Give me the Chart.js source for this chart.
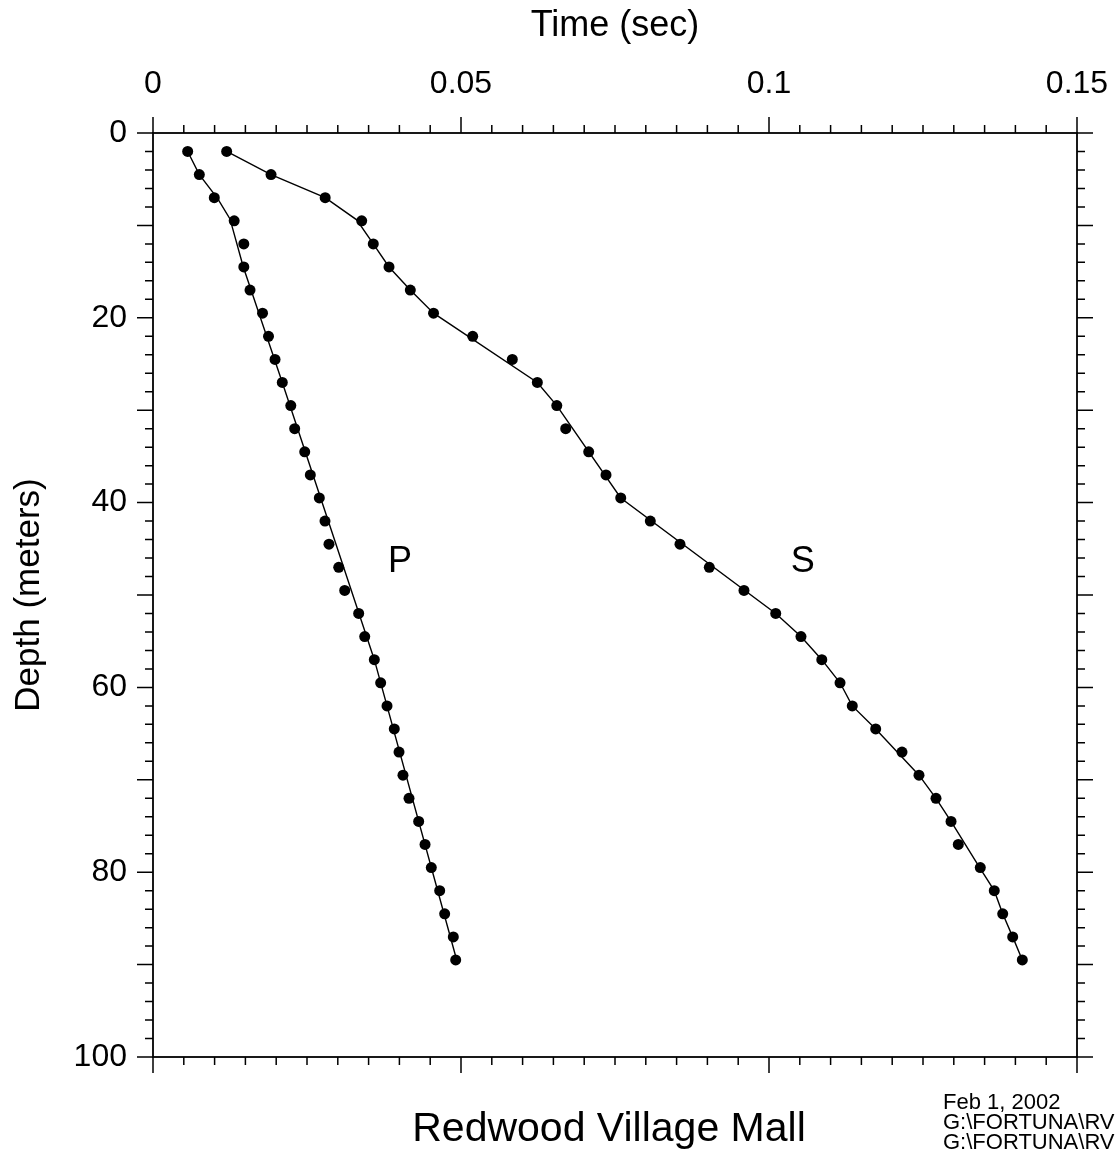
<!DOCTYPE html>
<html>
<head>
<meta charset="utf-8">
<script src="https://cdn.jsdelivr.net/npm/chart.js@4.4.0/dist/chart.umd.min.js"></script>
<style>
html,body{margin:0;padding:0;background:#fff;overflow:hidden}
canvas{display:block}
</style>
</head>
<body>
<canvas id="c" width="1115" height="1161"></canvas>
<script>
// ---- data ----
const depthM = [2, 4.5, 7, 9.5, 12, 14.5, 17, 19.5, 22, 24.5, 27, 29.5, 32, 34.5, 37, 39.5, 42, 44.5,
                47, 49.5, 52, 54.5, 57, 59.5, 62, 64.5, 67, 69.5, 72, 74.5, 77, 79.5, 82, 84.5, 87, 89.5];
const pTime = [0.00563, 0.00752, 0.00995, 0.01318, 0.01474, 0.01474, 0.01575, 0.01778, 0.01875, 0.01981,
               0.02099, 0.02237, 0.02300, 0.02463, 0.02554, 0.02700, 0.02792, 0.02857, 0.03015, 0.03112,
               0.03339, 0.03437, 0.03593, 0.03696, 0.03799, 0.03917, 0.03994, 0.04058, 0.04156, 0.04313,
               0.04416, 0.04518, 0.04654, 0.04735, 0.04875, 0.04914];
const sTime = [0.01196, 0.01916, 0.02795, 0.03388, 0.03576, 0.03831, 0.04177, 0.04554, 0.05190, 0.05833,
               0.06239, 0.06555, 0.06700, 0.07073, 0.07354, 0.07593, 0.08073, 0.08555, 0.09031, 0.09594,
               0.10109, 0.10519, 0.10857, 0.11153, 0.11352, 0.11732, 0.12159, 0.12435, 0.12711, 0.12955,
               0.13073, 0.13430, 0.13657, 0.13794, 0.13956, 0.14112];
// interpreted travel-time curves
const pLineDepth = [2, 4.5, 7.1, 9.3, 14.5, 27, 57, 89.5];
const pLineTime  = [0.00563, 0.00752, 0.0105, 0.0125, 0.01466, 0.02099, 0.03593, 0.0493];
const sLineDepth = [2, 4.5, 7, 9.4, 12, 14.5, 17, 19.5, 27, 29.5, 39.5, 52, 54.5, 57, 59.5, 62, 64.5,
                    69.5, 72, 74.5, 79.5, 82, 84.5, 87, 89.5];
const sLineTime  = [0.01196, 0.01916, 0.02795, 0.03307, 0.03576, 0.03831, 0.04177, 0.04554, 0.06239,
                    0.06555, 0.07593, 0.10109, 0.10519, 0.10857, 0.11153, 0.11352, 0.11732, 0.12435,
                    0.12711, 0.12955, 0.13420, 0.13657, 0.13794, 0.13956, 0.14112];
const xTickValues = [0, 0.05, 0.1, 0.15];
const yTickValues = [0, 20, 40, 60, 80, 100];
const xTitle = 'Time (sec)';
const yTitle = 'Depth (meters)';
const chartTitle = 'Redwood Village Mall';
const footerLines = ['Feb 1, 2002', 'G:\\FORTUNA\\RV', 'G:\\FORTUNA\\RV'];
const waveLabels = ['P', 'S'];
const waveLabelTime = [0.0401, 0.1055];
const waveLabelDepth = [46.46, 46.46];

// ---- chart ----
Chart.defaults.font.family = '"Liberation Sans", Arial, Helvetica, sans-serif';
Chart.defaults.color = '#000';

const FONT = '"Liberation Sans", Arial, Helvetica, sans-serif';

const frameTicks = {
  id: 'frameTicks',
  afterDraw(chart) {
    const {ctx, chartArea: a, scales: {x, y}} = chart;
    ctx.save();
    ctx.strokeStyle = '#000';
    ctx.lineCap = 'butt';
    ctx.lineWidth = 1.5;
    ctx.beginPath();
    for (let i = 0; i <= 30; i++) {
      const px = x.getPixelForValue(i * 0.005);
      const L = (i % 10 === 0) ? 16 : 8;
      ctx.moveTo(px, a.top); ctx.lineTo(px, a.top - L);
      ctx.moveTo(px, a.bottom); ctx.lineTo(px, a.bottom + L);
    }
    for (let i = 0; i <= 50; i++) {
      const py = y.getPixelForValue(i * 2);
      const L = (i % 5 === 0) ? 16 : 8;
      ctx.moveTo(a.left, py); ctx.lineTo(a.left - L, py);
      ctx.moveTo(a.right, py); ctx.lineTo(a.right + L, py);
    }
    ctx.stroke();
    ctx.lineWidth = 1.8;
    ctx.strokeRect(a.left, a.top, a.right - a.left, a.bottom - a.top);

    ctx.fillStyle = '#000';
    // wave labels
    ctx.font = '36px ' + FONT;
    ctx.textAlign = 'center';
    ctx.textBaseline = 'middle';
    waveLabels.forEach((t, i) => {
      ctx.fillText(t, x.getPixelForValue(waveLabelTime[i]), y.getPixelForValue(waveLabelDepth[i]));
    });
    // bottom title
    ctx.font = '41px ' + FONT;
    ctx.textBaseline = 'alphabetic';
    ctx.fillText(chartTitle, (a.left + a.right) / 2 - 6, a.bottom + 84);
    // footer
    ctx.font = '22px ' + FONT;
    ctx.textAlign = 'left';
    footerLines.forEach((t, i) => {
      ctx.fillText(t, 943, a.bottom + 51.5 + i * 20.3);
    });
    ctx.restore();
  }
};

const toPts = (xs, ys) => xs.map((v, i) => ({x: v, y: ys[i]}));
const hiddenGrid = (len) => ({display: true, drawOnChartArea: false, drawTicks: true, tickLength: len,
                              color: 'rgba(0,0,0,0)', tickColor: 'rgba(0,0,0,0)'});

new Chart(document.getElementById('c'), {
  type: 'scatter',
  data: {
    datasets: [
      {label: 'P picks', data: toPts(pTime, depthM), showLine: false, pointRadius: 5.5,
       pointBackgroundColor: '#000', pointBorderColor: '#000', pointBorderWidth: 0, order: 0},
      {label: 'S picks', data: toPts(sTime, depthM), showLine: false, pointRadius: 5.5,
       pointBackgroundColor: '#000', pointBorderColor: '#000', pointBorderWidth: 0, order: 0},
      {label: 'P curve', data: toPts(pLineTime, pLineDepth), showLine: true, pointRadius: 0,
       borderColor: '#000', borderWidth: 1.4, tension: 0, order: 1},
      {label: 'S curve', data: toPts(sLineTime, sLineDepth), showLine: true, pointRadius: 0,
       borderColor: '#000', borderWidth: 1.4, tension: 0, order: 1}
    ]
  },
  options: {
    responsive: false,
    animation: false,
    devicePixelRatio: 1,
    layout: {padding: {top: 0, left: 0, right: 38, bottom: 104}},
    plugins: {legend: {display: false}, tooltip: {enabled: false}},
    scales: {
      x: {
        type: 'linear', position: 'top', min: 0, max: 0.15,
        afterBuildTicks: s => { s.ticks = xTickValues.map(v => ({value: v})); },
        afterFit: s => { s.height = 133; },
        grid: hiddenGrid(30),
        border: {display: false},
        ticks: {font: {size: 32}, color: '#000', padding: 0, maxRotation: 0, autoSkip: false,
                callback: v => (v === 0 ? '0' : String(Math.round(v * 100) / 100))},
        title: {display: true, text: xTitle, font: {size: 36}, color: '#000', padding: {top: 4, bottom: 0}}
      },
      y: {
        type: 'linear', position: 'left', reverse: true, min: 0, max: 100,
        afterBuildTicks: s => { s.ticks = yTickValues.map(v => ({value: v})); },
        afterFit: s => { s.width = 153; },
        grid: hiddenGrid(26),
        border: {display: false},
        ticks: {font: {size: 32}, color: '#000', padding: 0, autoSkip: false},
        title: {display: true, text: yTitle, font: {size: 35}, color: '#000', padding: {top: 8, bottom: 0}}
      }
    }
  },
  plugins: [frameTicks]
});
</script>
</body>
</html>
